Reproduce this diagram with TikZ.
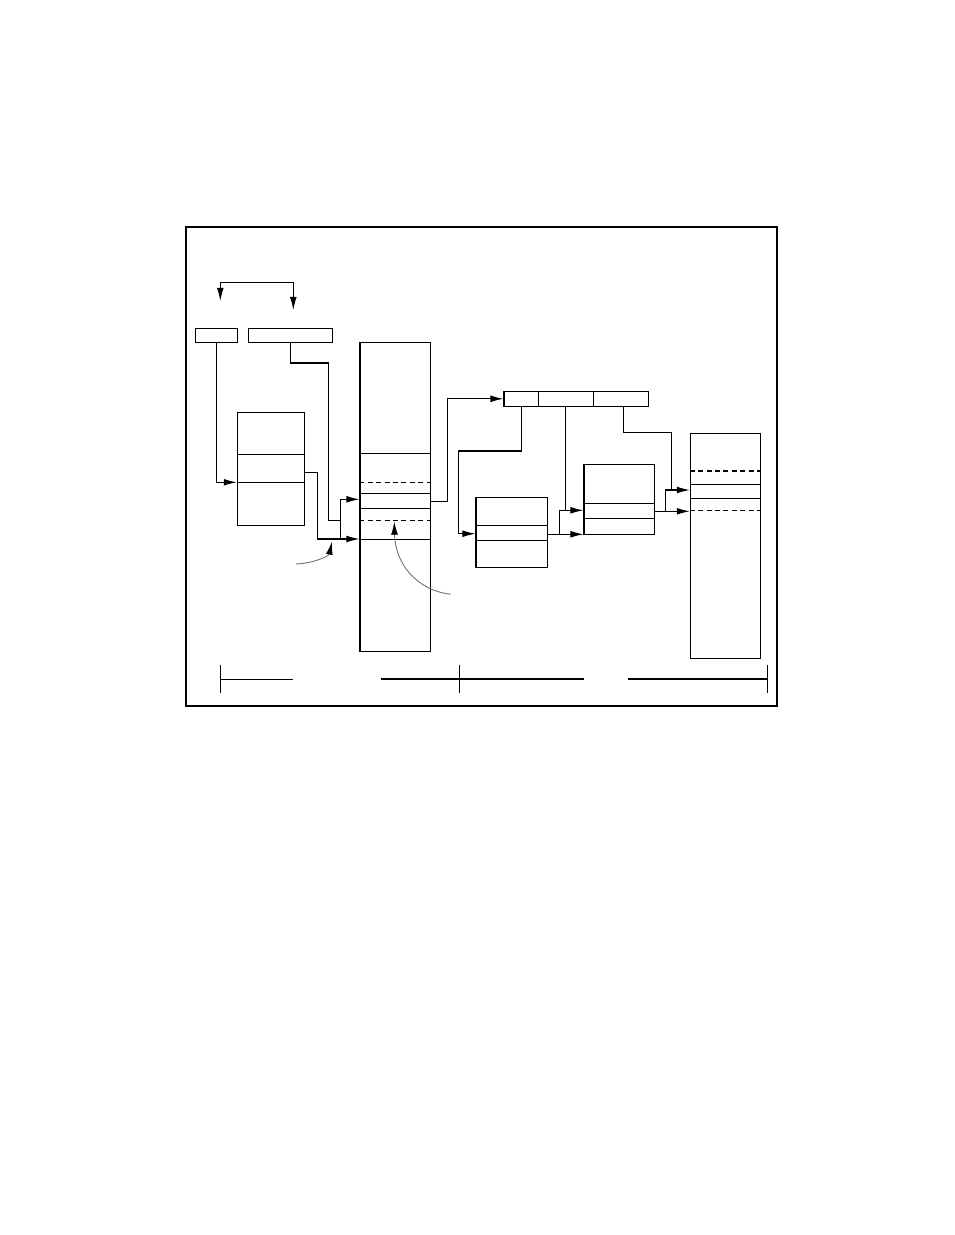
\documentclass[tikz,border=0pt]{standalone}
\usetikzlibrary{arrows.meta,fit,calc}
\begin{document}
\begin{tikzpicture}[x=0.5pt,y=-0.5pt, line width=0.55pt,
  box/.style={draw, inner sep=0pt},
  arr/.style={-{Latex[length=6.5pt,width=3.4pt]}},
  dsh/.style={dash pattern=on 2.5pt off 1.7pt},
  curv/.style={draw=black!55, line width=0.45pt, -{Latex[length=6.5pt,width=3.4pt,color=black]}}]
\useasboundingbox (0,0) rectangle (954,1235);
\node[box, fit={(186,227)(777,706)}] (frame) {};
% boxes
\node[box, fit={(195.3,328.3)(237.3,342.3)}] (b1) {};
\node[box, fit={(248.3,328.3)(332.7,342.3)}] (b2) {};
\node[box, fit={(237.3,412.3)(304.3,525.3)}] (A) {};
\node[box, fit={(360,342.3)(430.7,651.3)}] (B) {};
\node[box, fit={(504,391.3)(538.3,406.3)}] (C1) {};
\node[box, fit={(538.3,391.3)(593.3,406.3)}] (C2) {};
\node[box, fit={(593.3,391.3)(648.3,406.3)}] (C3) {};
\node[box, fit={(476,497.3)(547.3,567.3)}] (D) {};
\node[box, fit={(584,464.3)(654.3,534.3)}] (E) {};
\node[box, fit={(690.3,433.3)(760.3,658.3)}] (F) {};
% internal lines
\foreach \y in {454.3,482.3} \draw (A.west |- 0,\y) -- (A.east |- 0,\y);
\foreach \y in {453.3,493.3,508.3,539.3} \draw (B.west |- 0,\y) -- (B.east |- 0,\y);
\foreach \y in {482.3,520.3} \draw[dsh] (B.west |- 0,\y) -- (B.east |- 0,\y);
\foreach \y in {525.3,540.3} \draw (D.west |- 0,\y) -- (D.east |- 0,\y);
\foreach \y in {503.3,518.3} \draw (E.west |- 0,\y) -- (E.east |- 0,\y);
\foreach \y in {484.3,498.3} \draw (F.west |- 0,\y) -- (F.east |- 0,\y);
\foreach \y in {471,510.3} \draw[dsh] (F.west |- 0,\y) -- (F.east |- 0,\y);
% top double arrow
\coordinate (ta) at (220.3,301);
\coordinate (tb) at (293.3,310);
\draw[{Latex[length=6.5pt,width=3.4pt]}-{Latex[length=6.5pt,width=3.4pt]}] (ta) |- (256,282.3) -| (tb);
% connectors
\draw[arr] (b1.south) |- (A.west |- 0,482.3);
\draw[arr] (b2.south) |- (328.3,363) -- (328.3,520.3) -- (340.3,520.3) |- (B.west |- 0,499.3);
\draw[arr] (A.east |- 0,472.3) -- (317.3,472.3) |- (B.west |- 0,539);
\draw (340.3,520.3) -- (340.3,539);
\draw[arr] (B.east |- 0,501.3) -- (447.3,501.3) |- (C1.west);
\draw[arr] (C1.south) |- (458.3,451) |- (D.west |- 0,533.7);
\draw (C2.south) -- (C2.south |- 0,510.3);
\draw[arr] (559.3,510.3) -- (E.west |- 0,510.3);
\draw (559.3,510.3) -- (559.3,534.3);
\draw[arr] (D.east |- 0,534.3) -- (E.west |- 0,534.3);
\draw ($(C3.south)+(2.5,0)$) |- (671.3,432.3) -- (671.3,490);
\draw[arr] (665.3,490) -- (F.west |- 0,490);
\draw (665.3,490) -- (665.3,511.3);
\draw[arr] (E.east |- 0,511.3) -- (F.west |- 0,511.3);
% curved pointers
\draw[curv] (296,564) .. controls (315,563) and (329,556) .. (332,541.7);
\draw[curv] (450.7,594.3) .. controls (415,590) and (395,562) .. (394.3,521.7);
% bottom scale
\draw (220.3,665) -- (220.3,693.3);
\draw (220.3,679.5) -- (292.7,679.5);
\draw (381,679) -- (584,679);
\draw (459.3,665) -- (459.3,693.3);
\draw (628,679) -- (767.3,679);
\draw (767.3,665) -- (767.3,693.3);
\end{tikzpicture}
\end{document}
